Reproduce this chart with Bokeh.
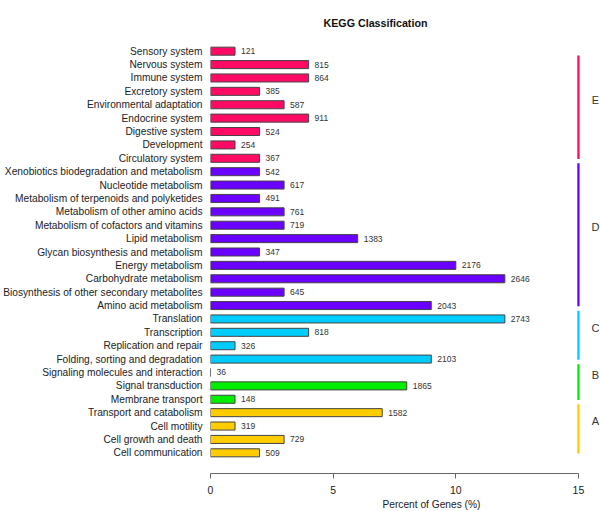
from bokeh.plotting import figure
from bokeh.models import FactorRange, Range1d, FixedTicker, ColumnDataSource, Title
from bokeh.embed import file_html
from bokeh.resources import INLINE
from bokeh.core.properties import value

# ---------------- data ----------------
categories = [
    "Sensory system", "Nervous system", "Immune system", "Excretory system",
    "Environmental adaptation", "Endocrine system", "Digestive system",
    "Development", "Circulatory system",
    "Xenobiotics biodegradation and metabolism", "Nucleotide metabolism",
    "Metabolism of terpenoids and polyketides", "Metabolism of other amino acids",
    "Metabolism of cofactors and vitamins", "Lipid metabolism",
    "Glycan biosynthesis and metabolism", "Energy metabolism",
    "Carbohydrate metabolism", "Biosynthesis of other secondary metabolites",
    "Amino acid metabolism",
    "Translation", "Transcription", "Replication and repair",
    "Folding, sorting and degradation",
    "Signaling molecules and interaction", "Signal transduction", "Membrane transport",
    "Transport and catabolism", "Cell motility", "Cell growth and death",
    "Cell communication",
]
gene_counts = [121, 815, 864, 385, 587, 911, 524, 254, 367,
               542, 617, 491, 761, 719, 1383, 347, 2176, 2646, 645, 2043,
               2743, 818, 326, 2103,
               36, 1865, 148,
               1582, 319, 729, 509]
percent_genes = [1, 4, 4, 2, 3, 4, 2, 1, 2,
                 2, 3, 2, 3, 3, 6, 2, 10, 12, 3, 9,
                 12, 4, 1, 9,
                 0, 8, 1,
                 7, 1, 3, 2]
group_of = ["E"] * 9 + ["D"] * 11 + ["C"] * 4 + ["B"] * 3 + ["A"] * 4
groups = ["E", "D", "C", "B", "A"]
group_colors = ["#FF0A64", "#6A00FF", "#00CCFF", "#00EE00", "#FFCC00"]
x_ticks = [0, 5, 10, 15]
title_text = "KEGG Classification"
x_label = "Percent of Genes (%)"

# ---------------- styling constants ----------------
FONT = "Liberation Sans"
N = len(categories)
color_map = dict(zip(groups, group_colors))
bracket_x = x_ticks[-1]

p = figure(
    width=600, height=511,
    y_range=FactorRange(factors=list(reversed(categories)),
                        range_padding=1.045, range_padding_units="absolute"),
    x_range=Range1d(0, 390 / 24.53),
    output_backend="svg", toolbar_location=None,
    min_border_left=210, min_border_right=0,
    min_border_top=30, min_border_bottom=38,
)
p.outline_line_color = None
p.xgrid.grid_line_color = None
p.ygrid.grid_line_color = None
p.background_fill_color = "white"
p.border_fill_color = "white"

p.title.text = title_text
p.title.align = "left"
p.title.offset = 113
p.title.standoff = 0
p.title.vertical_align = "top"
p.title.text_font = FONT
p.title.text_font_size = "10.7px"
p.title.text_font_style = "bold"
p.title.text_color = "#111111"
# invisible spacer panel between the title and the plot frame
p.add_layout(Title(text=" ", text_font_size="12px", text_alpha=0, standoff=2), "above")

bars = ColumnDataSource(dict(
    y=categories,
    right=percent_genes,
    count=[str(c) for c in gene_counts],
    color=[color_map[g] for g in group_of],
))
p.hbar(y="y", left=0, right="right", height=0.6, source=bars,
       fill_color="color", line_color="#444444", line_width=1)
p.text(x="right", y="y", text="count", source=bars, x_offset=6,
       text_font=value(FONT), text_font_size="8.5px", text_color="#333333",
       text_baseline="middle", text_align="left")

# group brackets on the right
seg = dict(x=[], y0=[], y1=[], color=[], ly=[], label=[])
for g in groups:
    idx = [i for i, gg in enumerate(group_of) if gg == g]
    top_i, bot_i = idx[0], idx[-1]
    top = (N - top_i - 0.5) + (0.62 if top_i > 0 else -0.32)
    bot = (N - bot_i - 0.5) - 0.05
    seg["x"].append(bracket_x)
    seg["y0"].append(top)
    seg["y1"].append(bot)
    seg["color"].append(color_map[g])
    seg["ly"].append((top + bot) / 2 + 0.56)
    seg["label"].append(g)
segsrc = ColumnDataSource(seg)
p.segment(x0="x", x1="x", y0="y0", y1="y1", source=segsrc,
          line_color="color", line_width=2.3)
p.text(x="x", y="ly", text="label", source=segsrc, x_offset=17,
       text_font=value(FONT), text_font_size="11px", text_color="#333333",
       text_align="center", text_baseline="middle")

# axes
xa = p.xaxis[0]
xa.ticker = FixedTicker(ticks=x_ticks)
xa.bounds = (x_ticks[0], x_ticks[-1])
xa.axis_line_color = "#666666"
xa.major_tick_line_color = "#666666"
xa.major_tick_out = 5
xa.major_tick_in = 0
xa.minor_tick_line_color = None
xa.major_label_standoff = 7
xa.major_label_text_font = FONT
xa.major_label_text_font_size = "10.5px"
xa.major_label_text_color = "#222222"

ya = p.yaxis[0]
ya.axis_line_color = None
ya.major_tick_line_color = None
ya.minor_tick_line_color = None
ya.major_tick_out = 0
ya.major_tick_in = 0
ya.major_label_standoff = 8
ya.major_label_text_font = FONT
ya.major_label_text_font_size = "10.2px"
ya.major_label_text_color = "#222222"

p.add_layout(Title(text=x_label, align="left", offset=172, standoff=0,
                   text_font=FONT, text_font_size="10.2px", text_font_style="normal",
                   text_color="#222222"), "below")

open("out.html", "w").write(file_html(p, INLINE))
